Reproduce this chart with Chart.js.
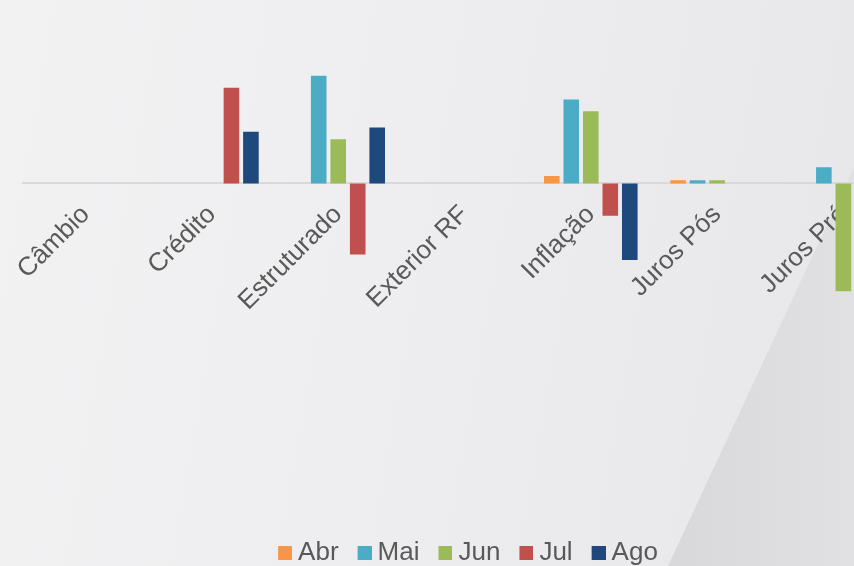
<!DOCTYPE html>
<html>
<head>
<meta charset="utf-8">
<script src="https://cdn.jsdelivr.net/npm/chart.js@4/dist/chart.umd.min.js"></script>
<style>
  html, body { margin: 0; padding: 0; width: 854px; height: 566px; overflow: hidden; }
  #bg { position: absolute; left: 0; top: 0; width: 854px; height: 566px;
        background: linear-gradient(100deg, #f2f2f3 0%, #eeeef0 45%, #e7e7e9 100%); }
  #diag { position: absolute; left: 0; top: 0; width: 854px; height: 566px;
        background: linear-gradient(90deg, #d7d7d9 75%, #e1e1e3 100%);
        clip-path: polygon(862px 150px, 900px 150px, 900px 566px, 668px 566px); }
  #wrap { position: absolute; left: 0; top: 0; width: 930px; height: 576px; }
</style>
</head>
<body>
<div id="bg"></div>
<div id="diag"></div>
<div id="wrap"><canvas id="c" width="930" height="576"></canvas></div>
<script>
const categories = ["Câmbio", "Crédito", "Estruturado", "Exterior RF", "Inflação", "Juros Pós", "Juros Pré"];
const seriesNames = ["Abr", "Mai", "Jun", "Jul", "Ago"];
const abr = [0, 0, 0, 0, 0.07, 0.03, 0];
const mai = [0, 0, 1.00, 0, 0.78, 0.03, 0.15];
const jun = [0, 0, 0.41, 0, 0.67, 0.03, -1.00];
const jul = [0, 0.89, -0.66, 0, -0.30, 0, 0];
const ago = [0, 0.48, 0.52, 0, -0.71, 0, 0];
const colors = ["#F79646", "#4BACC6", "#9BBB59", "#C0504D", "#1F497D"];
const values = [abr, mai, jun, jul, ago];

// legend swatches: square drawn closer to the label text
const swatches = colors.map(c => {
  const cv = document.createElement('canvas');
  cv.width = 28; cv.height = 14;
  const g = cv.getContext('2d');
  g.fillStyle = c;
  g.fillRect(14, 0, 14, 14);
  return cv;
});

const datasets = seriesNames.map((name, i) => ({
  label: name,
  data: values[i],
  backgroundColor: colors[i],
  borderWidth: 0,
  categoryPercentage: 0.772,
  barPercentage: 0.8
}));

new Chart(document.getElementById('c'), {
  type: 'bar',
  data: { labels: categories, datasets: datasets },
  options: {
    responsive: false,
    animation: false,
    layout: { padding: { left: 22.5, right: 23.5, top: 22, bottom: 0 } },
    plugins: {
      legend: {
        position: 'bottom',
        labels: {
          font: { family: '"Liberation Sans", Arial, sans-serif', size: 26 },
          color: '#595959',
          boxWidth: 14,
          boxHeight: 14,
          padding: 12,
          usePointStyle: true,
          generateLabels(chart) {
            const items = Chart.defaults.plugins.legend.labels.generateLabels(chart);
            items.forEach((it, i) => { it.pointStyle = swatches[i]; });
            return items;
          }
        }
      },
      tooltip: { enabled: false }
    },
    scales: {
      y: {
        display: false,
        min: -3.2,
        max: 1.5
      },
      x: {
        position: { y: 0 },
        z: 1,
        grid: { display: false, drawTicks: false },
        border: { display: true, color: '#d9d9d9', width: 2 },
        ticks: {
          autoSkip: false,
          minRotation: 45,
          maxRotation: 45,
          padding: 16,
          color: '#595959',
          font: { family: '"Liberation Sans", Arial, sans-serif', size: 26 }
        }
      }
    }
  }
});
</script>
</body>
</html>
